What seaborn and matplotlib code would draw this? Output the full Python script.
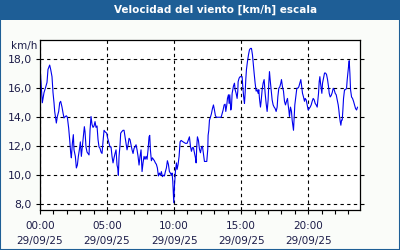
import matplotlib
matplotlib.use("Agg")
import matplotlib.pyplot as plt
from matplotlib.patches import Rectangle
from matplotlib.ticker import MultipleLocator, FixedLocator
import seaborn as sns
import pandas as pd

# minutes after 00:00 on 29/09/25
minutes = [
    0, 10.4, 17.9, 23.9, 31.3, 35.8, 43.3, 47.8, 53.7, 58.2, 62.7, 65.7, 73.1, 77.6,
    83.6, 88.1, 92.5, 98.5, 103.0, 107.5, 113.4, 117.9, 122.4, 128.3, 132.8, 137.3,
    140.3, 144.8, 149.2, 152.2, 158.2, 162.7, 167.2, 171.6, 176.1, 180.6, 185.1,
    189.5, 194.0, 198.5, 201.5, 205.9, 210.4, 214.9, 219.4, 223.9, 228.3, 232.8,
    237.3, 241.8, 246.3, 250.7, 255.2, 259.7, 264.2, 268.6, 273.1, 277.6, 282.1,
    286.6, 291.0,
    298.5, 302.9, 308.9, 313.4, 317.9, 322.3, 326.8, 331.3, 335.8, 340.3, 344.7,
    347.7, 350.7, 353.7, 358.2, 361.1, 365.6, 371.6, 376.1, 380.6, 385.0, 389.5,
    394.0, 398.5, 402.9, 407.4, 411.9, 416.4, 420.8, 425.3, 429.8, 434.3, 438.8,
    443.2, 447.7, 452.2, 456.7, 461.1, 465.6, 470.1, 474.6, 479.1, 483.5, 488.0,
    491.0, 494.0, 498.5, 502.9, 507.4, 511.9, 516.4, 520.8, 525.3, 529.8, 534.3,
    538.8, 543.2, 547.7, 552.2, 556.7, 561.1, 565.6, 570.1, 574.6, 579.1, 583.5,
    588.0, 591.0,
    594.1, 596.3, 598.6, 601.5, 606.0, 610.5, 613.5, 618.0, 622.4, 626.9, 631.4,
    640.4, 650.8, 658.3, 662.7, 668.7, 673.2, 677.7, 682.1, 686.6, 691.1, 695.6,
    698.6, 701.5, 704.5, 709.0, 713.5, 718.0, 722.4, 726.9, 731.4, 735.9, 746.3,
    750.8, 752.3, 755.3, 758.3, 762.7, 767.2, 771.7, 776.2, 780.6, 785.1, 789.6,
    810.5, 815.0, 819.5, 823.9, 828.4, 831.4, 835.9, 838.9, 843.3, 846.3, 849.3,
    853.8, 856.8, 859.8, 862.7, 865.7, 870.2, 873.2, 877.7, 882.1, 885.1,
    886.6, 891.1, 895.6, 904.5, 907.5, 912.0, 915.0, 917.9, 920.9, 923.9, 928.4,
    932.9, 937.3, 941.8, 946.3, 950.8, 955.3, 958.2, 962.7, 967.2, 971.7, 976.2,
    979.1, 982.1, 986.6, 989.6, 994.1, 998.5, 1003.0, 1007.5, 1012.0, 1016.4,
    1020.9, 1023.9, 1026.9, 1029.9, 1034.4, 1038.8, 1043.3, 1047.8, 1052.3, 1056.7,
    1061.2, 1064.2, 1068.7, 1073.2, 1077.6, 1080.6, 1085.1, 1089.6, 1094.1, 1098.5,
    1103.0, 1107.5, 1110.5, 1113.5, 1116.4, 1120.9, 1125.4, 1128.4, 1131.4, 1134.4,
    1137.3, 1140.3, 1144.8, 1149.3, 1153.8, 1158.2, 1162.7, 1167.2, 1170.2, 1174.7,
    1179.1, 1183.6,
    1186.7, 1191.2, 1195.7, 1200.1, 1204.6, 1209.1, 1213.6, 1218.0, 1222.5, 1227.0,
    1231.5, 1236.0, 1240.4, 1243.4, 1246.4, 1249.4, 1252.4, 1255.4, 1258.3, 1261.3,
    1264.3, 1268.8, 1273.3, 1277.7, 1282.2, 1286.7, 1291.2, 1294.2, 1298.6, 1303.1,
    1307.6, 1312.1, 1316.5, 1321.0, 1325.5, 1330.0, 1334.5, 1337.4, 1340.4, 1343.4,
    1346.4, 1349.4, 1352.4, 1355.4, 1358.3, 1362.8, 1367.3, 1371.8, 1374.8, 1377.7,
    1380.7, 1383.7, 1386.7, 1389.7, 1394.2, 1398.6, 1403.1, 1407.6, 1412.1, 1416.6,
    1421.0,
]

speed_kmh = [
    17.5, 15.0, 15.7, 16.0, 16.4, 17.3, 17.6, 17.3, 16.8, 15.7, 15.0, 14.4, 13.6, 14.05,
    14.4, 15.0, 15.1, 14.7, 14.3, 13.95, 14.05, 14.1, 14.0, 13.25, 12.45, 11.55,
    11.2, 12.2, 12.8, 11.75, 11.3, 10.5, 10.7, 11.3, 11.75, 12.3, 11.3,
    11.95, 12.65, 13.35, 13.0, 11.95, 11.6, 11.5, 11.4, 13.1, 14.05, 13.5,
    13.3, 13.4, 13.7, 13.3, 13.4, 12.45, 11.95, 11.85, 11.6, 11.5, 12.35,
    13.1, 13.0,
    12.9, 12.55, 12.2, 11.95, 11.95, 11.3, 10.85, 11.2, 11.5, 11.75, 10.7,
    10.5, 10.0, 11.3, 12.1, 12.9, 13.0, 13.1, 13.1, 12.65, 12.2, 11.75,
    12.1, 12.55, 12.45, 12.1, 11.75, 11.5, 11.85, 11.95, 12.1, 11.75, 11.3,
    10.7, 11.3, 11.75, 10.25, 10.85, 11.3, 11.1, 11.3, 11.1, 11.75, 12.65,
    12.75, 11.75, 11.0, 11.2, 11.1, 11.0, 10.85, 10.75, 10.5, 9.95, 10.15,
    10.0, 10.25, 9.9, 10.0, 9.95, 10.25, 10.5, 11.0, 10.75, 10.25, 10.15,
    10.0, 10.15,
    9.6, 8.8, 8.1, 9.2, 10.25, 10.85, 10.4, 10.75, 11.3, 12.3, 12.4,
    12.3, 12.2, 12.2, 12.4, 12.65, 12.0, 11.65, 11.9, 11.9, 11.55, 11.2,
    10.85, 12.0, 12.65, 12.4, 11.8, 11.55, 11.9, 12.0, 11.45, 10.95, 10.95,
    11.8, 12.75, 13.1, 13.8, 14.0, 14.25, 14.6, 14.85, 14.5, 14.1, 14.0,
    14.0, 14.25, 14.5, 14.85, 14.9, 14.4, 14.85, 15.3, 15.55, 14.95, 15.55,
    14.5, 14.7, 15.65, 15.9, 16.15, 16.35, 15.9, 15.65, 15.3, 15.8,
    16.45, 16.7, 16.8, 16.8, 16.1, 15.3, 14.95, 15.65, 16.6, 17.3, 17.85,
    18.3, 18.65, 18.75, 18.75, 18.3, 17.5, 17.05, 16.35, 15.8, 15.9, 15.65,
    15.9, 15.3, 14.7, 15.1, 15.9, 16.35, 16.6, 15.65, 14.95, 14.4,
    15.2, 16.35, 17.15, 16.6, 15.9, 15.2, 14.85, 14.7, 14.6, 14.4,
    14.7, 15.4, 16.0, 16.1, 16.35, 16.6, 16.1, 15.8, 15.1, 14.85,
    15.1, 15.3, 14.85, 14.5, 14.05, 14.7, 14.4, 13.8, 13.45, 13.1,
    13.9, 14.85, 15.4, 16.0, 16.0, 16.1, 16.35, 16.6, 16.2, 15.65,
    15.4, 15.1,
    15.3, 15.2, 14.85, 14.5, 14.6, 14.7, 14.85, 15.1, 15.3, 15.2,
    14.95, 14.85, 14.7, 15.2, 15.65, 16.45, 16.8, 16.35, 16.0, 15.65,
    16.35, 16.7, 17.05, 17.05, 16.95, 16.6, 16.1, 15.65, 15.4, 15.5,
    15.7, 16.0, 15.9, 15.65, 15.55, 15.2, 14.85, 14.5, 14.05, 13.7,
    13.45, 13.8, 13.8, 14.5, 15.3, 15.9, 15.9, 16.0, 16.6, 17.05,
    17.5, 17.9, 17.05, 15.9, 15.4, 15.3, 15.1, 14.85, 14.6, 14.5,
    14.7,
]

x_tick_minutes = [0, 300, 600, 900, 1200]
x_tick_labels = ["00:00\n29/09/25", "05:00\n29/09/25", "10:00\n29/09/25",
                 "15:00\n29/09/25", "20:00\n29/09/25"]
y_ticks = [8, 10, 12, 14, 16, 18]
y_tick_labels = ["8,0", "10,0", "12,0", "14,0", "16,0", "18,0"]

title = "Velocidad del viento [km/h] escala"
unit = "km/h"

sns.set_theme(style="white")
plt.rcParams["font.family"] = ["DejaVu Sans"]

text_col = "#1c1c48"
bar_col = "#1e5e96"

df = pd.DataFrame({"minute": minutes, "speed": speed_kmh})

fig = plt.figure(figsize=(4, 2.5), dpi=100, facecolor="#fafcf9")
ax = fig.add_axes([0.1, 0.16, 0.8, 0.68])
ax.set_facecolor("white")

sns.lineplot(data=df, x="minute", y="speed", ax=ax, color="#0000ee",
             linewidth=0.8, estimator=None, sort=False)

ax.set_xlim(0, 1432)
ax.set_ylim(7.6, 19.33)
ax.set_xlabel("")
ax.set_ylabel("")

ax.xaxis.set_major_locator(FixedLocator(x_tick_minutes))
ax.set_xticklabels(x_tick_labels)
ax.xaxis.set_minor_locator(MultipleLocator(60))
ax.set_yticks(y_ticks)
ax.set_yticklabels(y_tick_labels)

ax.tick_params(axis="x", which="both", direction="out", length=3, width=0.8,
               color="black", bottom=True, top=False, labelsize=7.5,
               labelcolor=text_col, pad=5)
ax.tick_params(axis="y", which="both", direction="out", length=3, width=0.8,
               color="black", left=True, right=True, labelsize=7.8,
               labelcolor=text_col, pad=3)
for lbl in ax.get_xticklabels():
    lbl.set_linespacing(1.55)

ax.grid(True, which="major", color="black", linestyle=(0, (3, 3)), linewidth=0.8)
for s in ax.spines.values():
    s.set_visible(True)
    s.set_color("black")
    s.set_linewidth(0.9)

# title bar and frame
fig.patches.append(Rectangle((0, 0.92), 1, 0.08, transform=fig.transFigure,
                             facecolor=bar_col, edgecolor="none", zorder=0))
fig.patches.append(Rectangle((0, 0), 1, 1, transform=fig.transFigure,
                             facecolor="none", edgecolor=bar_col, linewidth=1.5,
                             zorder=5))
fig.text(0.54, 0.962, title, color="white", fontsize=7.5, fontweight="bold",
         ha="center", va="center")
fig.text(0.06, 0.816, unit, color=text_col, fontsize=7.5, ha="center", va="center")

fig.savefig("out.png", dpi=100, facecolor=fig.get_facecolor())
